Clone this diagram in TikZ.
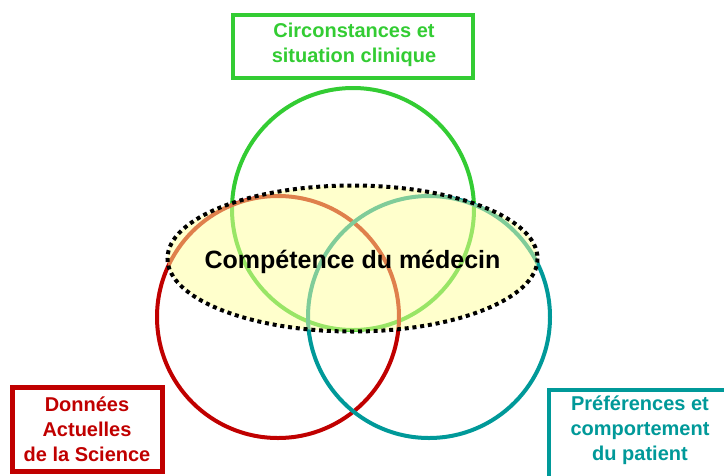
\documentclass[tikz,border=0pt]{standalone}
\usepackage{fontspec}
\setmainfont{Liberation Sans}
\definecolor{cgreen}{RGB}{51,204,51}
\definecolor{cred}{RGB}{192,0,0}
\definecolor{cteal}{RGB}{0,153,153}
\definecolor{cyell}{RGB}{255,255,153}
\begin{document}
\begin{tikzpicture}[x=1pt,y=-1pt,
  ring/.style={line width=4pt},
  boxline/.style={line width=4.5pt},
  lbl/.style={font=\fontsize{20}{25}\selectfont\bfseries, align=center, inner sep=0pt},
  comp/.style={fill=cyell, fill opacity=0.5, draw=none},
  compedge/.style={draw=black, line width=4pt, dash pattern=on 4pt off 3.8pt}
]
\useasboundingbox (0,0) rectangle (724,475);
\clip (0,0) rectangle (724,475);
% boxes
\draw[boxline, cgreen] (233,15) rectangle (473,78);
\draw[boxline, cred] (12.5,387.5) rectangle (162.5,471.5);
\draw[boxline, cteal] (549,390) rectangle (740,495);
% circles
\draw[ring, cgreen] (353,209) circle (121);
\draw[ring, cred] (278,317) circle (121);
\draw[ring, cteal] (429,317) circle (121);
% competence ellipse
\path[comp] (352.5,258.5) ellipse [x radius=185, y radius=73];
\path[compedge] (352.5,258.5) ellipse [x radius=185, y radius=73];
% labels
\node[lbl, text=cgreen] (circ) at (354,45) {Circonstances et\\situation clinique};
\node[lbl, text=cred] (sci) at (87,429) {Données\\Actuelles\\de la Science};
\node[lbl, text=cteal] (pat) at (640,430) {Préférences et\\comportement\\du patient};
\node[font=\fontsize{25}{30}\selectfont\bfseries, anchor=base, inner sep=0pt] (med) at (352.5,268) {Compétence du médecin};
\end{tikzpicture}
\end{document}
